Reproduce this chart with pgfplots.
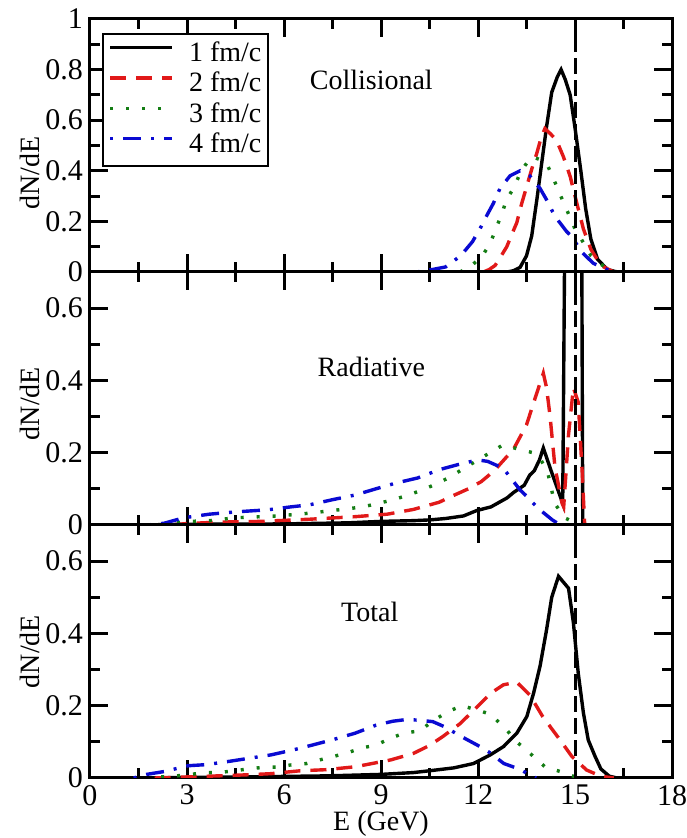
\documentclass[border=0pt]{standalone}
\usepackage{pgfplots}
\pgfplotsset{compat=1.18}
\usepackage{fontspec}
\setmainfont{Liberation Serif}
\definecolor{myred}{RGB}{225,25,25}
\definecolor{mygreen}{RGB}{20,125,20}
\definecolor{myblue}{RGB}{10,10,210}

\pgfplotsset{
  panel/.style={
    scale only axis, width=291pt, height=126.5pt,
    xmin=0, xmax=18,
    xtick={0,3,6,9,12,15,18}, minor xtick={1.5,4.5,7.5,10.5,13.5,16.5},
    tick align=inside,
    major tick length=9pt, minor tick length=5pt,
    every tick/.append style={line width=1.5pt, black},
    axis line style={line width=1.5pt},
    /pgf/number format/assume math mode=true,
    tick label style={font=\fontsize{15}{15}\selectfont},
    label style={font=\fontsize{14}{14}\selectfont},
    ylabel={dN/dE},
    xlabel style={at={(rel axis cs:0.5,0)}, anchor=center, yshift=-23pt},
  },
  c1/.style={black, line width=1.7pt},
  c2/.style={myred, line width=1.7pt, dash pattern=on 8pt off 5pt},
  c3/.style={mygreen, line width=1.7pt, dash pattern=on 1.5pt off 6.5pt},
  c4/.style={myblue, line width=1.7pt, dash pattern=on 1.5pt off 5pt on 9pt off 5pt},
  vref/.style={black, line width=1.5pt, dash pattern=on 8pt off 3pt},
}

\begin{document}
\begin{tikzpicture}
\useasboundingbox (-45pt,-30pt) rectangle (298pt,389pt);

% ---------------- Collisional ----------------
\begin{axis}[panel, at={(0pt,253pt)}, anchor=south west,
  ymin=0, ymax=1, ytick={0,0.2,0.4,0.6,0.8,1}, minor ytick={0.1,0.3,0.5,0.7,0.9},
  xticklabels={},
  ylabel style={at={([xshift=-30pt]rel axis cs:0,0.39)}, anchor=center},
  legend style={at={(0.02,0.943)}, anchor=north west, draw=black, line width=1pt,
    fill=white, font=\fontsize{14}{14}\selectfont, inner xsep=3pt, inner ysep=3pt,
    nodes={inner sep=0.5pt, text height=10pt, text depth=3pt}, column sep=7pt, row sep=1.2pt},
  legend cell align=left,
  legend image code/.code={\draw[#1] (0pt,3.5pt) -- (31pt,3.5pt);},
]
\addplot[c1] coordinates {(12.9,0) (13.1,0.005) (13.3,0.018) (13.5,0.064) (13.66,0.142) (13.82,0.286) (13.97,0.43) (14.12,0.574) (14.28,0.71) (14.45,0.77) (14.57,0.80) (14.7,0.76) (14.85,0.70) (15.0,0.57) (15.18,0.40) (15.33,0.25) (15.49,0.13) (15.7,0.05) (16.0,0.01) (16.3,0)};
\addlegendentry{1 fm/c}
\addplot[c2] coordinates {(12.17,0) (12.35,0.01) (12.53,0.026) (12.7,0.06) (12.89,0.10) (13.05,0.15) (13.2,0.195) (13.35,0.27) (13.51,0.34) (13.67,0.41) (13.82,0.47) (13.95,0.53) (14.07,0.567) (14.25,0.545) (14.43,0.52) (14.64,0.456) (14.85,0.378) (15.06,0.27) (15.26,0.17) (15.49,0.09) (15.8,0.026) (16.2,0)};
\addlegendentry{2 fm/c}
\addplot[c3] coordinates {(11.44,0) (11.75,0.02) (12.11,0.06) (12.37,0.11) (12.58,0.18) (12.74,0.23) (12.89,0.29) (13.1,0.33) (13.3,0.39) (13.45,0.42) (13.66,0.456) (13.9,0.445) (14.12,0.43) (14.33,0.37) (14.54,0.306) (14.74,0.247) (15.0,0.17) (15.26,0.116) (15.49,0.065) (15.8,0.03) (16.1,0.01) (16.3,0)};
\addlegendentry{3 fm/c}
\addplot[c4] coordinates {(10.1,0) (10.6,0.01) (11.0,0.02) (11.47,0.065) (11.83,0.12) (12.1,0.18) (12.3,0.23) (12.47,0.27) (12.68,0.33) (12.99,0.38) (13.3,0.40) (13.6,0.38) (13.92,0.33) (14.1,0.29) (14.3,0.24) (14.5,0.20) (14.74,0.16) (14.9,0.14) (15.2,0.08) (15.56,0.035) (15.87,0.016) (16.2,0)};
\addlegendentry{4 fm/c}
\addplot[vref, forget plot] coordinates {(15,0) (15,1)};
\node[font=\fontsize{14}{14}\selectfont] at (axis cs:8.7,0.76) {Collisional};
\end{axis}

% ---------------- Radiative ----------------
\begin{axis}[panel, at={(0pt,126.5pt)}, anchor=south west,
  ymin=0, ymax=0.7, ytick={0,0.2,0.4,0.6}, minor ytick={0.1,0.3,0.5},
  xticklabels={},
  ylabel style={at={([xshift=-30pt]rel axis cs:0,0.48)}, anchor=center},
]
\addplot[c1] coordinates {(1.5,0) (3.0,0.002) (6.0,0.003) (8.0,0.006) (9.0,0.01) (10.0,0.012) (10.5,0.014) (11.0,0.018) (11.55,0.025) (11.96,0.04) (12.4,0.05) (12.9,0.075) (13.1,0.09) (13.43,0.11) (13.6,0.138) (13.74,0.15) (13.9,0.18) (14.02,0.213) (14.3,0.14) (14.62,0.06) (14.7,1.0) (14.95,1.6) (15.2,1.0) (15.24,0)};
\addplot[c2] coordinates {(2.5,0) (3.0,0.004) (4.0,0.008) (5.3,0.01) (6.8,0.016) (8.2,0.023) (9.2,0.03) (10.0,0.043) (10.8,0.063) (11.2,0.08) (11.7,0.10) (12.1,0.12) (12.5,0.15) (12.8,0.18) (13.1,0.21) (13.5,0.277) (13.8,0.36) (14.02,0.42) (14.12,0.38) (14.23,0.30) (14.38,0.16) (14.6,0.06) (14.65,0.05) (14.8,0.25) (14.95,0.38) (15.1,0.34) (15.22,0.15) (15.3,0)};
\addplot[c3] coordinates {(2.2,0) (2.5,0.005) (3.1,0.01) (3.7,0.012) (4.5,0.02) (5.8,0.025) (6.7,0.032) (7.5,0.04) (8.44,0.05) (9.3,0.068) (9.75,0.08) (10.16,0.093) (10.62,0.11) (11.08,0.13) (11.5,0.153) (12.0,0.18) (12.37,0.2) (12.78,0.222) (13.24,0.21) (13.7,0.2) (13.95,0.18) (14.17,0.14) (14.27,0.10) (14.37,0.06) (14.68,0.02) (15.14,0)};
\addplot[c4] coordinates {(1.8,0) (2.3,0.005) (2.9,0.02) (3.7,0.03) (4.2,0.034) (4.8,0.038) (5.5,0.042) (6.2,0.05) (6.8,0.056) (7.5,0.07) (8.2,0.083) (8.84,0.10) (9.46,0.116) (10.13,0.13) (10.8,0.153) (11.5,0.17) (12.0,0.18) (12.3,0.176) (12.78,0.157) (13.3,0.097) (13.5,0.08) (13.86,0.046) (14.3,0.014) (14.55,0)};
\addplot[vref] coordinates {(15,0) (15,0.7)};
\node[font=\fontsize{14}{14}\selectfont] at (axis cs:8.7,0.436) {Radiative};
\end{axis}

% ---------------- Total ----------------
\begin{axis}[panel, at={(0pt,0pt)}, anchor=south west,
  ymin=0, ymax=0.7, ytick={0,0.2,0.4,0.6}, minor ytick={0.1,0.3,0.5},
  xlabel={E (GeV)},
  ylabel style={at={([xshift=-30pt]rel axis cs:0,0.5)}, anchor=center},
]
\addplot[c1] coordinates {(1.5,0) (4.8,0.003) (7.4,0.006) (9.0,0.01) (10.0,0.015) (10.5,0.02) (11.25,0.028) (11.86,0.04) (12.38,0.064) (12.79,0.087) (13.2,0.124) (13.51,0.17) (13.72,0.235) (13.92,0.31) (14.12,0.41) (14.28,0.50) (14.49,0.558) (14.8,0.525) (14.95,0.43) (15.1,0.29) (15.26,0.18) (15.41,0.105) (15.62,0.06) (15.8,0.025) (16.06,0.005) (16.3,0)};
\addplot[c2] coordinates {(2.0,0) (3.0,0.003) (4.0,0.006) (4.9,0.009) (5.6,0.012) (6.5,0.02) (7.3,0.023) (8.2,0.031) (9.3,0.05) (10.0,0.068) (10.5,0.09) (10.9,0.114) (11.44,0.15) (11.9,0.19) (12.4,0.235) (12.79,0.258) (13.2,0.265) (13.6,0.23) (14.0,0.17) (14.54,0.105) (14.9,0.06) (15.36,0.022) (15.8,0.005) (16.2,0)};
\addplot[c3] coordinates {(2.2,0.003) (2.7,0.006) (3.1,0.01) (3.6,0.015) (4.0,0.015) (4.9,0.025) (5.4,0.03) (5.8,0.03) (6.2,0.036) (6.7,0.04) (7.1,0.05) (7.55,0.06) (7.97,0.07) (8.4,0.083) (8.84,0.091) (9.3,0.11) (9.73,0.125) (10.2,0.13) (10.6,0.158) (11.08,0.184) (11.5,0.2) (11.9,0.19) (12.37,0.177) (12.84,0.138) (13.2,0.10) (13.66,0.064) (14.07,0.031) (14.54,0.018) (14.95,0.005) (15.3,0)};
\addplot[c4] coordinates {(1.35,0) (1.75,0.01) (2.3,0.018) (3.04,0.034) (3.6,0.037) (4.3,0.046) (4.95,0.055) (5.6,0.064) (6.3,0.078) (6.87,0.091) (7.55,0.107) (8.2,0.124) (8.84,0.146) (9.36,0.157) (9.8,0.162) (10.15,0.16) (10.6,0.156) (10.96,0.142) (11.5,0.114) (12.06,0.087) (12.37,0.07) (12.8,0.04) (13.3,0.024) (13.57,0.01) (13.8,0)};
\addplot[vref] coordinates {(15,0) (15,0.7)};
\node[font=\fontsize{14}{14}\selectfont] at (axis cs:8.65,0.46) {Total};
\end{axis}
\end{tikzpicture}
\end{document}
